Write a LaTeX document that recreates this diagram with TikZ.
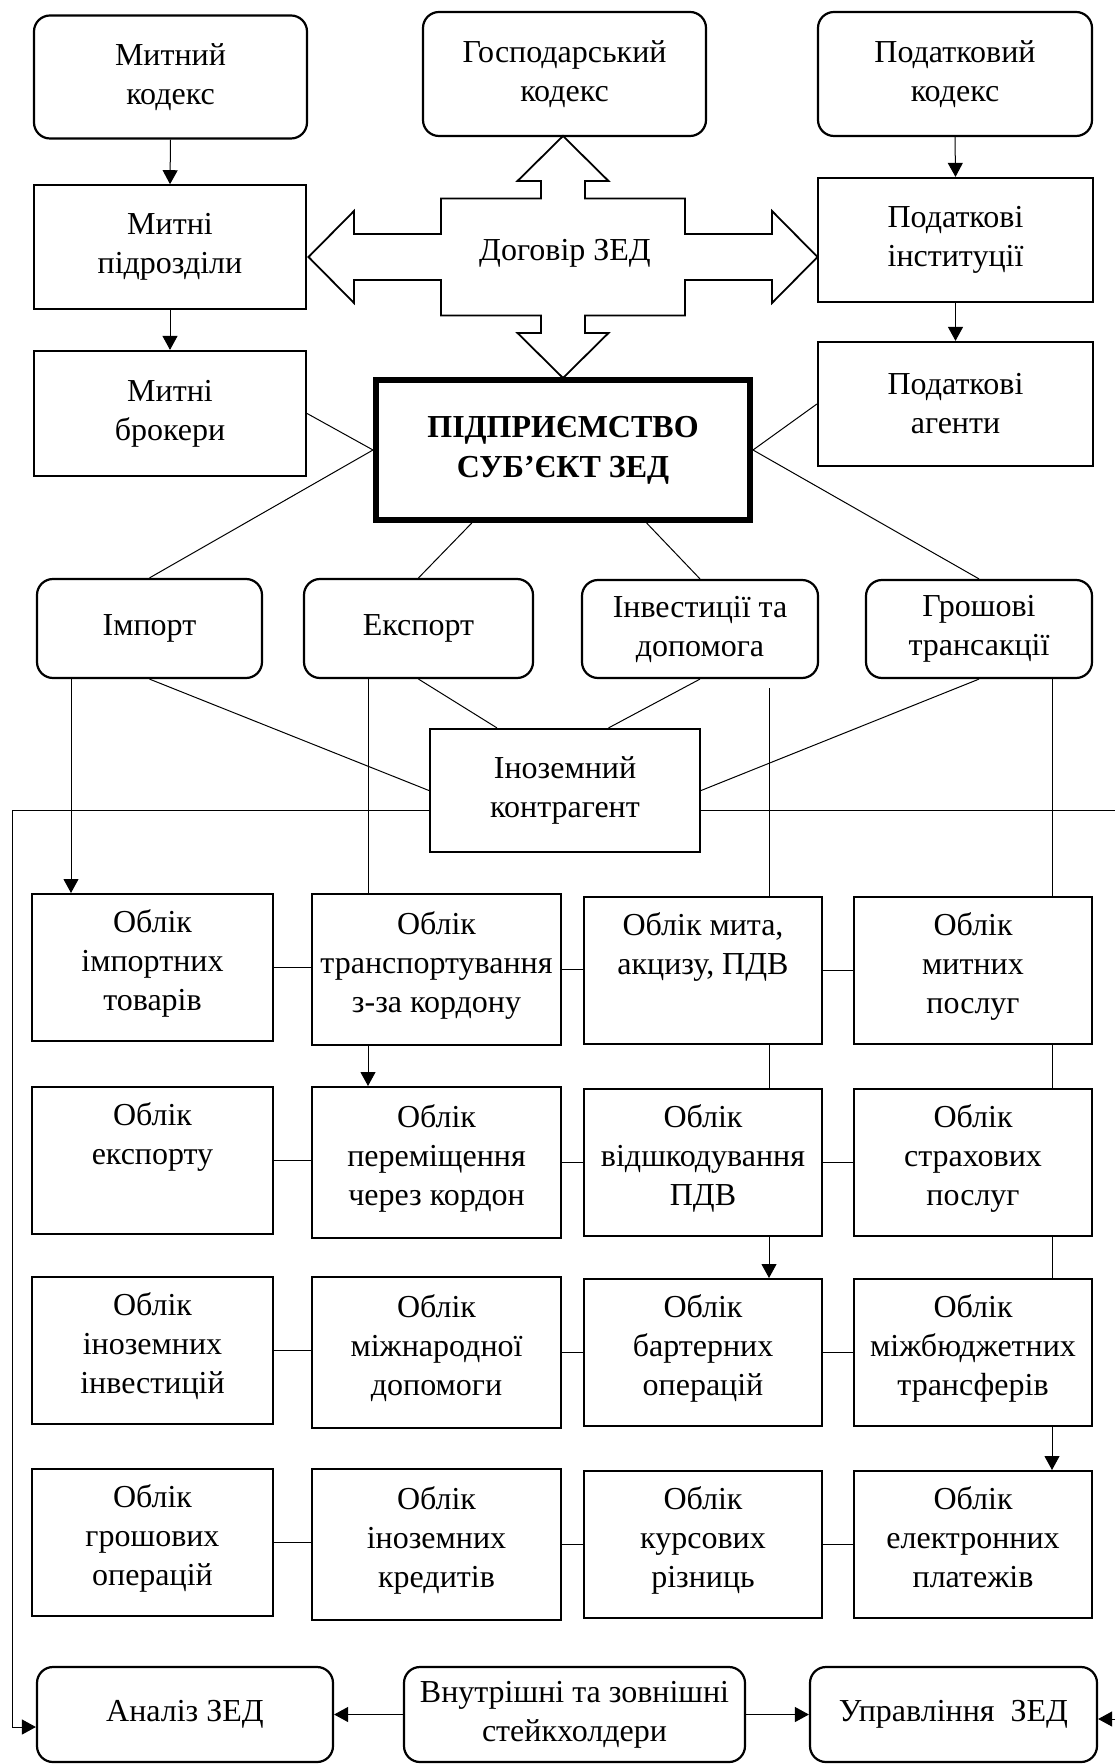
\documentclass[tikz,border=0pt]{standalone}
\usepackage{fontspec}
\setmainfont{Liberation Serif}
\usetikzlibrary{arrows.meta, calc}

\tikzset{
    every node/.style={font=\fontsize{16}{19.5}\selectfont},
    rbox/.style={draw, line width=1.1pt, rounded corners=8pt, align=center, inner sep=0pt},
    sbox/.style={draw, line width=1.1pt, align=center, inner sep=0pt},
    obl/.style={sbox, anchor=north},
    arr/.style={-{Triangle[length=7pt, width=7.5pt]}}
}
\newcommand{\oblt}[2]{\parbox[c][58pt][t]{#1}{\centering #2}}

\begin{document}
\begin{tikzpicture}[x=0.5pt, y=-0.5pt, line width=0.5pt]
        \useasboundingbox (0,0) rectangle (1115,1764);

        \node[rbox, minimum width=136.5pt, minimum height=61.5pt] (mk) at (170.5,77) {Митний\\кодекс};
        \node[rbox, minimum width=141.5pt, minimum height=62pt] (gk) at (564.5,74) {Господарський\\кодекс};
        \node[rbox, minimum width=137pt, minimum height=62pt] (pk) at (955,74) {Податковий\\кодекс};
        \node[sbox, minimum width=136pt, minimum height=61.7pt] (mp) at (170,247) {Митні\\підрозділи};
        \node[sbox, minimum width=137.5pt, minimum height=62pt] (pi) at (955.5,240) {Податкові\\інституції};
        \node[sbox, minimum width=136pt, minimum height=62.5pt] (mb) at (170,413.5) {Митні\\брокери};
        \node[sbox, minimum width=137.5pt, minimum height=62pt] (pa) at (955.5,404) {Податкові\\агенти};
        \node[sbox, line width=3pt, minimum width=187pt, minimum height=70pt,
              font=\fontsize{16}{20}\selectfont\bfseries] (ent) at (563,450) {ПІДПРИЄМСТВО\\СУБ’ЄКТ ЗЕД};

        \draw[line width=0.9pt, shift={(563,257)}]
            (0,-121) -- (45.5,-76) -- (22,-76) -- (22,-58.5) -- (122,-58.5) -- (122,-23)
            -- (209,-23) -- (209,-46) -- (254.5,0) -- (209,46) -- (209,23) -- (122,23)
            -- (122,58.5) -- (22,58.5) -- (22,76) -- (45.5,76) -- (0,121) -- (-45.5,76)
            -- (-22,76) -- (-22,58.5) -- (-122,58.5) -- (-122,23) -- (-209,23) -- (-209,46)
            -- (-254.5,0) -- (-209,-46) -- (-209,-23) -- (-122,-23) -- (-122,-58.5)
            -- (-22,-58.5) -- (-22,-76) -- (-45.5,-76) -- cycle;
        \node (dog) at (565,253) {Договір ЗЕД};

        \node[rbox, minimum width=112.5pt, minimum height=49.5pt] (imp) at (149.5,628.5) {Імпорт};
        \node[rbox, minimum width=114.5pt, minimum height=49.5pt] (exp) at (418.5,628.5) {Експорт};
        \node[rbox, minimum width=118pt, minimum height=49pt] (inv) at (700,629) {Інвестиції та\\допомога};
        \node[rbox, minimum width=113pt, minimum height=49pt] (money) at (979,629) {Грошові\\трансакції};
        \node[sbox, minimum width=135pt, minimum height=61.5pt] (fgn) at (565,790.5) {Іноземний\\контрагент};

        \foreach \n/\y/\t in {a1/893/{Облік\\імпортних\\товарів}, b1/1086/{Облік\\експорту},
                c1/1276/{Облік\\іноземних\\інвестицій}, d1/1468/{Облік\\грошових\\операцій}} {
            \node[obl, minimum width=120.5pt, minimum height=73.5pt] (\n) at (152.5,\y) {\oblt{120.5pt}{\t}};
        }
        \foreach \n/\y/\t in {a2/893/{Облік\\транспортування\\з-за кордону}, b2/1086/{Облік\\переміщення\\через кордон},
                c2/1276/{Облік\\міжнародної\\допомоги}, d2/1468/{Облік\\іноземних\\кредитів}} {
            \node[obl, minimum width=124.5pt, minimum height=75.5pt] (\n) at (436.5,\y) {\oblt{124.5pt}{\t}};
        }
        \foreach \n/\y/\t in {a3/896/{Облік мита,\\акцизу, ПДВ}, b3/1088/{Облік\\відшкодування\\ПДВ},
                c3/1278/{Облік\\бартерних\\операцій}, d3/1470/{Облік\\курсових\\різниць}} {
            \node[obl, minimum width=119pt, minimum height=73.5pt] (\n) at (703,\y) {\oblt{119pt}{\t}};
        }
        \foreach \n/\y/\t in {a4/896/{Облік\\митних\\послуг}, b4/1088/{Облік\\страхових\\послуг},
                c4/1278/{Облік\\міжбюджетних\\трансферів}, d4/1470/{Облік\\електронних\\платежів}} {
            \node[obl, minimum width=119pt, minimum height=73.5pt] (\n) at (973,\y) {\oblt{119pt}{\t}};
        }

        \node[rbox, minimum width=148pt, minimum height=47.5pt] (an) at (185,1714.5) {Аналіз ЗЕД};
        \node[rbox, minimum width=170.5pt, minimum height=47.5pt] (st) at (574.5,1714.5) {Внутрішні та зовнішні\\стейкхолдери};
        \node[rbox, minimum width=143.5pt, minimum height=47.5pt] (man) at (953.5,1714.5) {Управління\ \ ЗЕД};

        \draw[arr] (mk.south) -- (mp.north);
        \draw[arr] (mp.south) -- (mb.north);
        \draw[arr] (pk.south) -- (pi.north);
        \draw[arr] (pi.south) -- (pa.north);

        \draw (mb.east) -- (ent.west) -- (imp.north);
        \draw (pa.west) -- (ent.east) -- (money.north);
        \draw ($(ent.south west)!0.26!(ent.south east)$) -- (exp.north);
        \draw ($(ent.south west)!0.72!(ent.south east)$) -- (inv.north);

        \draw (imp.south) -- (fgn.west);
        \draw (money.south) -- (fgn.east);
        \draw (exp.south) -- ($(fgn.north west)!0.25!(fgn.north east)$);
        \draw (inv.south) -- ($(fgn.north west)!0.66!(fgn.north east)$);

        \coordinate (v1) at (71,0);
        \coordinate (v2) at (368,0);
        \coordinate (v3) at (769,0);
        \coordinate (v4) at (1052,0);
        \draw[arr] (imp.south -| v1) -- (a1.north -| v1);
        \draw (exp.south -| v2) -- (a2.north -| v2);
        \draw[arr] (a2.south -| v2) -- (b2.north -| v2);
        \draw ($(inv.south -| v3)+(0,9)$) -- (a3.north -| v3);
        \draw (a3.south -| v3) -- (b3.north -| v3);
        \draw[arr] (b3.south -| v3) -- (c3.north -| v3);
        \draw (money.south -| v4) -- (a4.north -| v4);
        \draw (a4.south -| v4) -- (b4.north -| v4);
        \draw (b4.south -| v4) -- (c4.north -| v4);
        \draw[arr] (c4.south -| v4) -- (d4.north -| v4);

        \foreach \r in {a,b,c,d} {
            \draw (\r1.east) -- (\r1.east -| \r2.west);
            \draw (\r2.east) -- (\r2.east -| \r3.west);
            \draw (\r3.east) -- (\r3.east -| \r4.west);
        }

        \coordinate (hl) at (12,810);
        \coordinate (hr) at (1115,810);
        \coordinate (lft) at (12,1727);
        \coordinate (rin) at (1115,1719);
        \draw[arr] (hl -| fgn.west) -- (hl) -- (lft) -- (lft -| an.west);
        \draw (hr -| fgn.east) -- (hr);
        \draw[arr] (rin) -- (rin -| man.east);
        \draw[arr] (st.west) -- (an.east);
        \draw[arr] (st.east) -- (man.west);
    \end{tikzpicture}
\end{document}
